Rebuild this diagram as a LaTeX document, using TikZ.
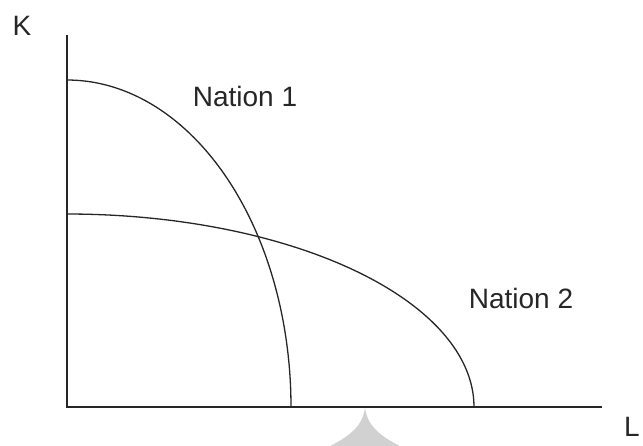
\documentclass[tikz,border=0pt]{standalone}
\usepackage{fontspec}
\setmainfont{Liberation Sans}
\begin{document}
\begin{tikzpicture}[x=1pt,y=-1pt,
  axisline/.style={line width=1.3pt,color=black!85},
  curveline/.style={line width=1.3pt,color=black!85},
  lbl/.style={font=\fontsize{28}{30}\selectfont,text=black!85,inner sep=0pt}]
\useasboundingbox (0,0) rectangle (643,445);
\clip (0,0) rectangle (643,445);
% faint watermark fragment
\fill[black!18] (365,408) .. controls (362,428) and (348,438) .. (318,452) -- (412,452) .. controls (382,438) and (368,428) .. (365,408) -- cycle;
% axes
\coordinate (O) at (67,407);
\coordinate (ytop) at (67,35);
\coordinate (xend) at (602,407);
\draw[axisline] (ytop) -- (O) -- (xend);
% curves
\draw[curveline] plot[domain=90:0,samples=90] ({67+224*cos(\x)},{407-327*sin(\x)});
\draw[curveline] plot[domain=90:0,samples=90] ({67+407*cos(\x)},{407-193*sin(\x)});
% labels
\node[lbl] (K) at (22,26) {K};
\node[lbl,anchor=north west] (L) at (624,417) {L};
\node[lbl] (n1) at (245,96) {Nation 1};
\node[lbl] (n2) at (521,298) {Nation 2};
\end{tikzpicture}
\end{document}
